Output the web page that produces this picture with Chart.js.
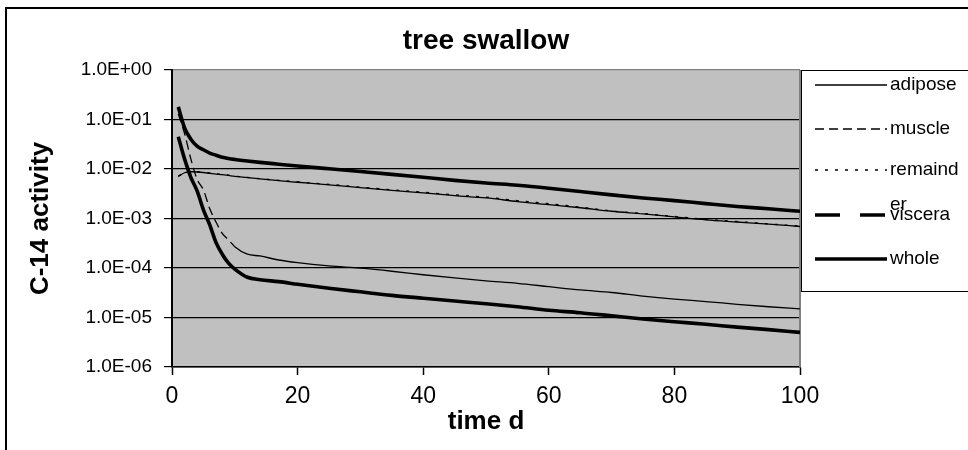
<!DOCTYPE html>
<html><head><meta charset="utf-8">
<script src="https://cdn.jsdelivr.net/npm/chart.js@4"></script>
<style>html,body{margin:0;padding:0;background:#fff;}canvas{display:block;}</style>
</head><body>
<canvas id="c" width="968" height="450"></canvas>
<script>
const TITLE = 'tree swallow';
const X_TITLE = 'time d';
const Y_TITLE = 'C-14 activity';
const SERIES_NAMES = ['adipose', 'muscle', 'remainder', 'viscera', 'whole'];
const DAYS = [1,2,3,4,5,6,7,8,9,10,12,14,17,20,25,30,35,40,45,50,55,60,65,70,75,80,85,90,95,100];
const ADIPOSE = [0.0070,0.0084,0.0088,0.0087,0.0085,0.0082,0.0079,0.0077,0.0074,0.0071,0.0067,0.0063,0.0058,0.0054,0.0048,0.0042,0.0037,0.0033,0.0029,0.0026,0.0022,0.0019,0.00165,0.0014,0.00124,0.00108,0.00094,0.00085,0.00077,0.00069];
const MUSCLE = [0.13,0.052,0.016,0.0062,0.0038,0.0016,0.00085,0.0005,0.00037,0.00027,0.00019,0.000175,0.000145,0.000128,0.00011,0.000099,0.000086,0.000073,0.000063,0.000055,0.000049,0.000042,0.000036,0.000032,0.000027,0.0000235,0.000021,0.0000185,0.0000165,0.000015];
const REMAINDER = [0.0072,0.0086,0.0090,0.0088,0.0086,0.0083,0.0080,0.0078,0.0075,0.0072,0.0068,0.0064,0.0059,0.0055,0.0049,0.0043,0.0038,0.0034,0.0030,0.0027,0.0023,0.0020,0.0017,0.00142,0.00126,0.0011,0.00096,0.00087,0.00078,0.0007];
const VISCERA = [0.045,0.016,0.0068,0.0036,0.0015,0.00075,0.00033,0.00019,0.000125,0.000095,0.000065,0.000058,0.000053,0.000047,0.000039,0.000033,0.000028,0.0000245,0.0000215,0.000019,0.0000165,0.000014,0.0000125,0.0000108,0.0000093,0.0000082,0.0000073,0.0000064,0.0000057,0.000005];
const WHOLE = [0.18,0.068,0.040,0.029,0.0245,0.021,0.019,0.0173,0.0163,0.0156,0.0145,0.0136,0.0125,0.0115,0.0101,0.0089,0.0078,0.0068,0.0059,0.0052,0.0047,0.0041,0.0035,0.0030,0.0026,0.0023,0.0020,0.00175,0.00157,0.0014];
const X_TICKS = [0,20,40,60,80,100];
const Y_TICKS = [1e-6,1e-5,1e-4,1e-3,1e-2,1e-1,1];
const Y_TICK_LABELS = ['1.0E-06','1.0E-05','1.0E-04','1.0E-03','1.0E-02','1.0E-01','1.0E+00'];

const FONT = '"Liberation Sans", Arial, sans-serif';
const SERIES_VALUES = [ADIPOSE, MUSCLE, REMAINDER, VISCERA, WHOLE];
const STYLES = [
  {w: 1.3, dash: []},
  {w: 1.3, dash: [9, 5]},
  {w: 1.3, dash: [3, 7]},
  {w: 3.6, dash: [25, 20]},
  {w: 3.6, dash: []}
];
const LEGEND_Y = [85, 129, 170, 215, 259];

// dash restarts per segment (like the source program): dashed only when a day's segment is long
function segDash(style) {
  return c => {
    if (!style.dash.length) return [];
    const days = DAYS[c.p1DataIndex] - DAYS[c.p0DataIndex];
    const len = Math.hypot(c.p1.x - c.p0.x, c.p1.y - c.p0.y) / days;
    return len > style.dash[0] ? style.dash : [];
  };
}

const datasets = SERIES_NAMES.map((name, i) => ({
  label: name,
  data: DAYS.map((d, k) => ({x: d, y: SERIES_VALUES[i][k]})),
  borderColor: '#000',
  backgroundColor: '#000',
  borderWidth: STYLES[i].w,
  borderDash: [],
  legendDash: STYLES[i].dash,
  pointRadius: 0,
  cubicInterpolationMode: 'monotone',
  fill: false,
  segment: {borderDash: segDash(STYLES[i])}
}));

function wrapText(ctx, text, maxW) {
  const out = []; let cur = '';
  for (const ch of text) {
    if (ctx.measureText(cur + ch).width > maxW && cur) { out.push(cur); cur = ch; }
    else cur += ch;
  }
  if (cur) out.push(cur);
  return out;
}

const framePlugin = {
  id: 'frame',
  beforeDraw(chart) {
    const {ctx, chartArea: a} = chart;
    ctx.save();
    ctx.fillStyle = '#fff';
    ctx.fillRect(0, 0, chart.width, chart.height);
    ctx.strokeStyle = '#000';
    ctx.lineWidth = 2;
    ctx.strokeRect(6, 8, chart.width + 10, chart.height + 10);
    ctx.fillStyle = '#c0c0c0';
    ctx.fillRect(a.left, a.top, a.right - a.left, a.bottom - a.top);
    ctx.restore();
  },
  beforeDatasetsDraw(chart) {
    const {ctx, chartArea: a} = chart;
    ctx.save();
    ctx.strokeStyle = '#808080';
    ctx.lineWidth = 2;
    ctx.beginPath();
    ctx.moveTo(a.right, a.top); ctx.lineTo(a.right, a.bottom);
    ctx.stroke();
    ctx.restore();
  },
  afterDraw(chart) {
    const ctx = chart.ctx;
    ctx.save();
    ctx.fillStyle = '#fff';
    ctx.fillRect(801.5, 70.5, 200, 221);
    ctx.strokeStyle = '#000';
    ctx.lineWidth = 1;
    ctx.strokeRect(801.5, 70.5, 200, 221);
    ctx.font = '19px ' + FONT;
    ctx.textBaseline = 'middle';
    ctx.textAlign = 'left';
    chart.data.datasets.forEach((ds, i) => {
      const y = LEGEND_Y[i];
      ctx.beginPath();
      ctx.setLineDash(ds.legendDash);
      ctx.lineWidth = ds.borderWidth;
      ctx.strokeStyle = '#000';
      ctx.moveTo(815, y); ctx.lineTo(887, y);
      ctx.stroke();
      ctx.setLineDash([]);
      ctx.fillStyle = '#000';
      wrapText(ctx, ds.label, 72).forEach((t, k) => ctx.fillText(t, 890, y + k * 35));
    });
    ctx.restore();
  }
};

new Chart(document.getElementById('c'), {
  type: 'line',
  data: {datasets},
  plugins: [framePlugin],
  options: {
    responsive: false,
    animation: false,
    devicePixelRatio: 1,
    layout: {padding: {left: 0, right: 168, top: 0, bottom: 0}},
    plugins: {
      legend: {display: false},
      tooltip: {enabled: false},
      title: {
        display: true, text: TITLE, fullSize: false, color: '#000',
        font: {family: FONT, size: 28, weight: 'bold', lineHeight: 1.2},
        padding: {top: 24, bottom: 12.4}
      }
    },
    scales: {
      x: {
        type: 'linear', min: 0, max: 100,
        afterBuildTicks: s => { s.ticks = X_TICKS.map(v => ({value: v})); },
        afterFit: s => { s.height = 83; },
        ticks: {autoSkip: false, maxRotation: 0, color: '#000', padding: 8,
          font: {family: FONT, size: 23}},
        grid: {drawOnChartArea: false, drawTicks: true, tickLength: 8, tickColor: '#000', tickWidth: 1.5},
        border: {display: true, color: '#000', width: 1.5},
        title: {display: true, text: X_TITLE, color: '#000', padding: {top: 0, bottom: 13},
          font: {family: FONT, size: 26, weight: 'bold', lineHeight: 1.2}}
      },
      y: {
        type: 'logarithmic', min: 1e-6, max: 1,
        afterBuildTicks: s => { s.ticks = Y_TICKS.map(v => ({value: v})); },
        afterFit: s => { s.width = 172; },
        ticks: {autoSkip: false, color: '#000', padding: 12,
          font: {family: FONT, size: 19},
          callback: (v) => { const i = Y_TICKS.findIndex(t => Math.abs(Math.log10(t) - Math.log10(v)) < 1e-6); return i >= 0 ? Y_TICK_LABELS[i] : ''; }},
        grid: {drawOnChartArea: true, drawTicks: true, tickLength: 8, tickColor: '#000', lineWidth: 1.2,
          color: c => (c.tick && c.tick.value === 1) ? '#808080' : '#000'},
        border: {display: true, color: '#000', width: 2},
        title: {display: true, text: Y_TITLE, color: '#000', padding: {top: 25, bottom: 0},
          font: {family: FONT, size: 26, weight: 'bold', lineHeight: 1.2}}
      }
    }
  }
});
</script>
</body></html>
